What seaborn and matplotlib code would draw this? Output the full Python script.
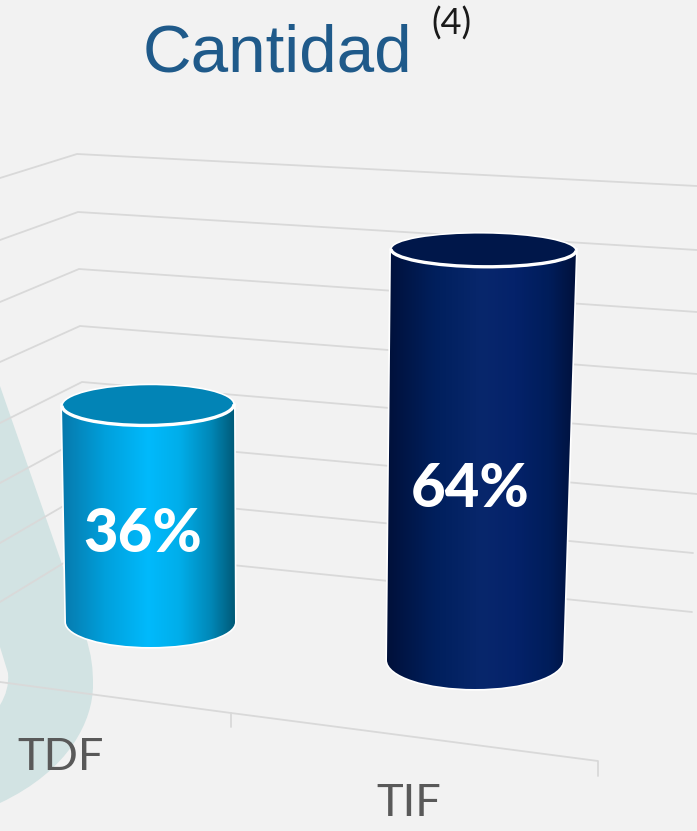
import numpy as np
import seaborn as sns
import matplotlib.pyplot as plt
from matplotlib.colors import LinearSegmentedColormap
from matplotlib.patches import Arc, Ellipse, PathPatch
from matplotlib.path import Path

# Data
categories = ["TDF", "TIF"]
shares = [36, 64]
title = "Cantidad"
title_note = "(4)"

W, H = 697, 831
BG = "#f2f2f2"
GRID = "#d9d9d9"

sns.set_style("white")
plt.rcParams["font.family"] = ["Lato", "DejaVu Sans"]

fig = plt.figure(figsize=(W / 100, H / 100), dpi=100, facecolor=BG)

# Backdrop axes in pixel coordinates for the fake 3D walls
bg = fig.add_axes([0, 0, 1, 1], zorder=0)
bg.set_xlim(0, W)
bg.set_ylim(H, 0)
bg.axis("off")

# Pale watermark shape on the left
blob = Path(
    [(0, 386), (63, 567), (85, 635),
     (92, 655), (93, 670), (93, 685),
     (93, 720), (70, 770), (0, 803),
     (0, 705),
     (6, 695), (9, 685), (8, 673),
     (0, 647), (0, 386)],
    [Path.MOVETO, Path.LINETO, Path.LINETO,
     Path.CURVE4, Path.CURVE4, Path.CURVE4,
     Path.CURVE4, Path.CURVE4, Path.CURVE4,
     Path.LINETO,
     Path.CURVE4, Path.CURVE4, Path.CURVE4,
     Path.LINETO, Path.CLOSEPOLY],
)
bg.add_patch(PathPatch(blob, facecolor="#d2e3e3", edgecolor="none", zorder=1))

# Wall gridlines: left end, corner, right end
wall_left = [178, 240, 302, 362, 423, 483, 543, 602]
wall_corner_x = [77, 78, 79, 80, 82, 83, 84, 85]
wall_corner_y = [154, 212, 269, 326, 382, 438, 494, 550]
wall_right_x = [697, 697, 697, 697, 697, 697, 693, 692]
wall_right_y = [186, 250, 312, 374, 434, 494, 553, 612]
for yl, cx, cy, rx, ry in zip(wall_left, wall_corner_x, wall_corner_y, wall_right_x, wall_right_y):
    bg.plot([0, cx, rx], [yl, cy, ry], color=GRID, lw=1.3, zorder=2, solid_joinstyle="miter")

# Floor edge and its ticks
bg.plot([0, 231, 598, 598], [682, 713, 761, 776], color=GRID, lw=1.3, zorder=2)
bg.plot([231, 231], [713, 727], color=GRID, lw=1.3, zorder=2)

cylinders = [
    dict(left=62, right=234, base=622, px_per_pct=6.03, lean_l=4, lean_r=1,
         top_h=41, base_h=25, angle=-0.5, lid="#0284b6",
         stops=["#0779ac", "#00a0dc", "#00bafc", "#00aeea", "#0088b8", "#005a78"]),
    dict(left=391, right=576, base=660, px_per_pct=6.41, lean_l=-4, lean_r=-13,
         top_h=34, base_h=29, angle=0.5, lid="#00174a",
         stops=["#00103a", "#001f5c", "#08276c", "#04226a", "#001d5a", "#00113c"]),
]
stop_pos = [0, 0.25, 0.5, 0.68, 0.86, 1]

for cat, share, c in zip(categories, shares, cylinders):
    # seaborn draws the bar on its own value scale, the cylinder is built on it
    ax = fig.add_axes([c["left"] / W, (H - c["base"]) / H, (c["right"] - c["left"]) / W,
                       100 * c["px_per_pct"] / H], zorder=1)
    sns.barplot(x=[cat], y=[share], ax=ax, width=1, color=c["lid"])
    ax.set_xlim(-0.5, 0.5)
    ax.set_ylim(0, 100)
    ax.axis("off")
    bar = ax.patches[0]
    bar.set_alpha(0)

    pts = ax.transData.transform([(bar.get_x(), bar.get_height()), (bar.get_x() + bar.get_width(), 0)])
    (x0, y0), (x1, y1) = bg.transData.inverted().transform(pts)

    xl_b, xr_b = x0 + c["lean_l"], x1 + c["lean_r"]
    mid_b = (xl_b + xr_b) / 2
    half_b = (xr_b - xl_b) / 2
    k = 0.5523
    bh = c["base_h"]
    side = Path(
        [(x0, y0), (xl_b, y1),
         (xl_b, y1 + bh * k), (mid_b - half_b * k, y1 + bh), (mid_b, y1 + bh),
         (mid_b + half_b * k, y1 + bh), (xr_b, y1 + bh * k), (xr_b, y1),
         (x1, y0), (x0, y0)],
        [Path.MOVETO, Path.LINETO,
         Path.CURVE4, Path.CURVE4, Path.CURVE4,
         Path.CURVE4, Path.CURVE4, Path.CURVE4,
         Path.LINETO, Path.CLOSEPOLY],
    )
    bg.add_patch(PathPatch(side, facecolor="white", edgecolor="white", lw=2.4, zorder=3))

    cmap = LinearSegmentedColormap.from_list("cyl", list(zip(stop_pos, c["stops"])))
    grad = np.linspace(0, 1, 256).reshape(1, -1)
    im = bg.imshow(grad, cmap=cmap, extent=[min(x0, xl_b), max(x1, xr_b), y1 + bh, y0],
                   aspect="auto", zorder=4)
    im.set_clip_path(PathPatch(side, transform=bg.transData))

    # Lid: thin rim at the back, thick one at the front
    lid_xy = ((x0 + x1) / 2, y0)
    bg.add_patch(Ellipse(lid_xy, x1 - x0, c["top_h"], angle=c["angle"],
                         facecolor=c["lid"], edgecolor="white", lw=1.2, zorder=5))
    bg.add_patch(Arc(lid_xy, x1 - x0, c["top_h"], angle=c["angle"], theta1=0, theta2=180,
                     edgecolor="white", lw=2.4, zorder=5))

bg.set_xlim(0, W)
bg.set_ylim(H, 0)

# Value labels
label_pos = [(143, 529), (470, 484)]
for share, (lx, ly) in zip(shares, label_pos):
    bg.text(lx, ly, f"{share}%", color="white", fontsize=43, fontweight=900,
            ha="center", va="center_baseline", zorder=6)

# Category labels
cat_pos = [(61, 753), (409, 799)]
for cat, (lx, ly) in zip(categories, cat_pos):
    bg.text(lx, ly, cat, color="#595959", fontsize=32.5, ha="center", va="center_baseline", zorder=6)

# Title
bg.text(143, 72, title, color="#1f5a8a", fontsize=48.5, family="Liberation Sans",
        ha="left", va="baseline", zorder=6)
bg.text(431, 35, title_note, color="#1a1a1a", fontsize=26, fontweight="regular",
        ha="left", va="baseline", zorder=6)

plt.savefig("out.png", dpi=100, facecolor=BG)
plt.close()
